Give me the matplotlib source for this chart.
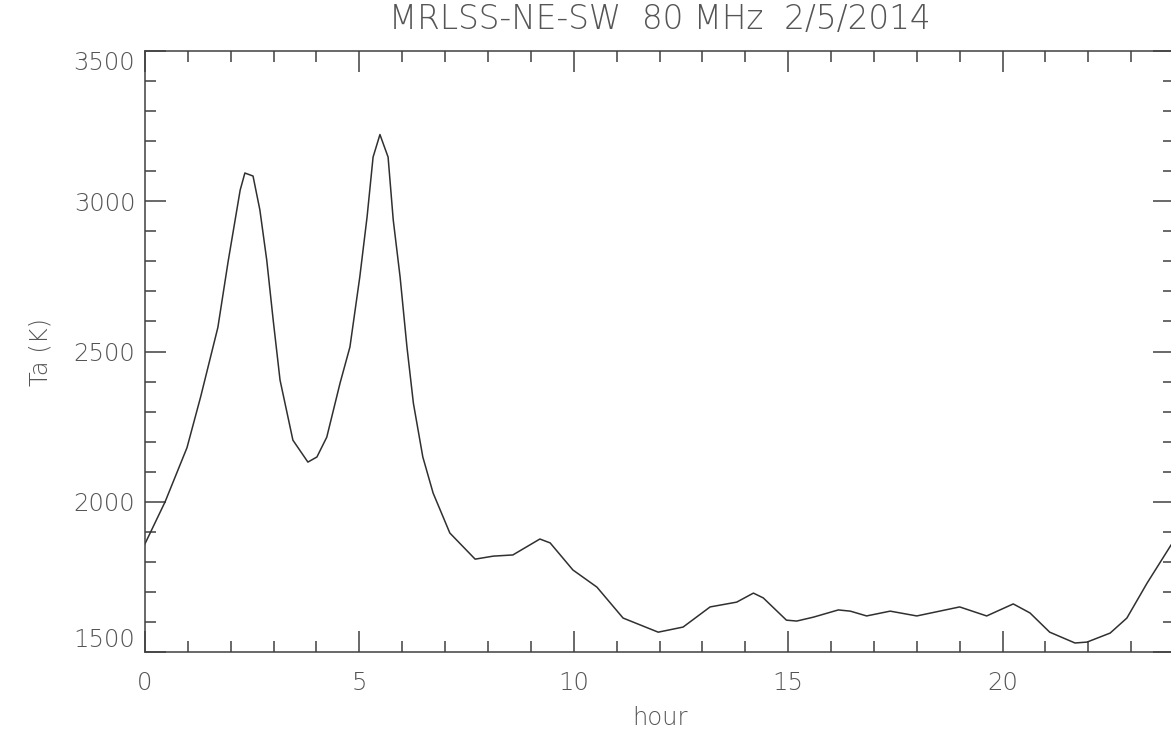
import matplotlib.pyplot as plt
from matplotlib.ticker import MultipleLocator

# antenna temperature over the day
hours = [0.0, 0.47, 0.98, 1.3, 1.70, 1.94, 2.22, 2.33, 2.52, 2.68, 2.84, 2.99,
         3.15, 3.45, 3.80, 4.01, 4.24, 4.55, 4.78, 5.01, 5.18, 5.32, 5.48, 5.67,
         5.79, 5.95, 6.11, 6.26, 6.48, 6.72, 7.11, 7.70, 8.12, 8.58, 9.21, 9.45,
         9.98, 10.54, 11.15, 11.97, 12.55, 13.18, 13.8, 14.19, 14.42, 14.96, 15.2,
         15.59, 16.17, 16.45, 16.83, 17.38, 18.0, 19.0, 19.63, 20.25, 20.64, 21.1,
         21.69, 21.97, 22.51, 22.9, 23.37, 23.93, 24.0]
ta = [1860, 2000, 2180, 2350, 2580, 2800, 3037, 3094, 3084, 2971, 2804, 2605,
      2405, 2205, 2132, 2149, 2215, 2395, 2515, 2748, 2948, 3147, 3222, 3147,
      2938, 2748, 2515, 2328, 2149, 2029, 1896, 1809, 1819, 1823, 1876, 1863,
      1773, 1716, 1613, 1566, 1583, 1650, 1666, 1696, 1680, 1606, 1603,
      1616, 1640, 1636, 1620, 1636, 1620, 1650, 1620, 1660, 1630, 1566,
      1530, 1533, 1563, 1613, 1729, 1856, 1870]

title = 'MRLSS-NE-SW  80 MHz  2/5/2014'
ytick_vals = [1500, 2000, 2500, 3000, 3500]
xtick_vals = [0, 5, 10, 15, 20]

txt_color = '#555555'
fs = 17.5
plt.rcParams['font.weight'] = 'light'
plt.rcParams['axes.labelweight'] = 'light'

fig = plt.figure(figsize=(11.71, 7.33), dpi=100)
ax = fig.add_axes([0.1238, 0.1105, 0.8788, 0.8199])

ax.plot(hours, ta, color='#303030', linewidth=1.1)

ax.set_xlim(0, 24)
ax.set_ylim(1500, 3500)
ax.xaxis.set_minor_locator(MultipleLocator(1))
ax.yaxis.set_minor_locator(MultipleLocator(100))
ax.set_xticks(xtick_vals)
ax.set_yticks(ytick_vals)
ax.set_xticklabels([str(v) for v in xtick_vals])
ax.set_yticklabels([str(v) for v in ytick_vals])

ax.tick_params(which='both', direction='in', top=True, right=True,
               colors='#404040', labelcolor=txt_color, labelsize=fs)
ax.tick_params(which='major', length=15, width=1.1)
ax.tick_params(which='minor', length=8, width=1.1)
ax.tick_params(axis='x', pad=14)
ax.tick_params(axis='y', pad=7)

# end labels sit inside the axis range, like IDL does
ylabels = ax.get_yticklabels()
ylabels[0].set_verticalalignment('bottom')
ylabels[-1].set_verticalalignment('top')

for sp in ax.spines.values():
    sp.set_color('#404040')
    sp.set_linewidth(1.1)

ax.set_ylabel('Ta (K)', fontsize=fs, color=txt_color, va='center', fontweight='light')
ax.yaxis.set_label_coords(-0.102, 0.5)
ax.set_xlabel('hour', fontsize=fs, color=txt_color, va='center', fontweight='light')
ax.xaxis.set_label_coords(0.5, -0.11)

ax.text(0.5, 1.052, title, transform=ax.transAxes, ha='center', va='center',
        fontsize=23.5, color=txt_color)

fig.savefig('out.png', dpi=100)
